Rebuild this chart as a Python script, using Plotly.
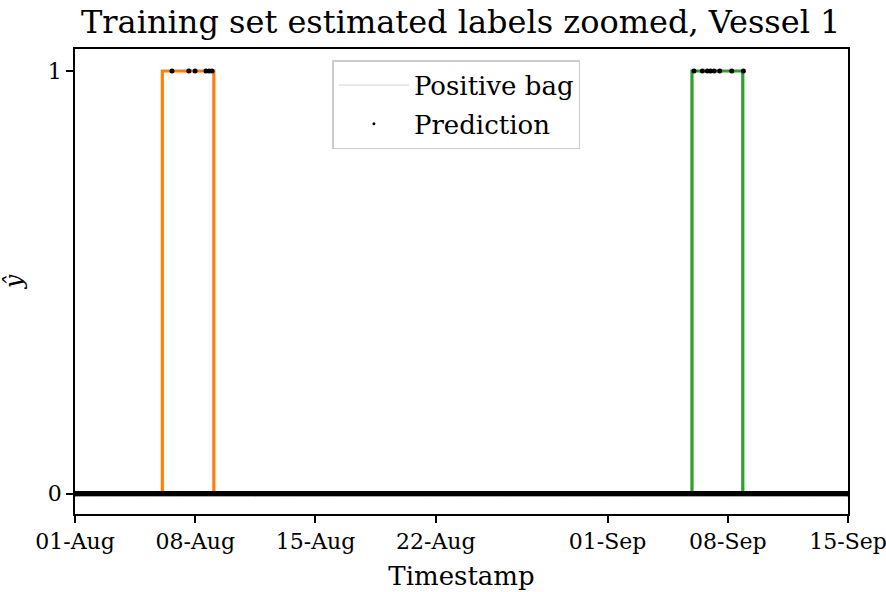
import pandas as pd
import plotly.graph_objects as go

# Positive bag windows (start, end) for vessel 1
bag_starts = ["2023-08-06 02:00", "2023-09-05 22:00"]
bag_ends = ["2023-08-09 02:00", "2023-09-08 21:00"]
bag_colors = ["#ff7f0e", "#2ca02c"]

# Timestamps where the model predicts 1
pos_pred_times = [
    "2023-08-06 15:30", "2023-08-07 15:00", "2023-08-07 23:50",
    "2023-08-08 15:00", "2023-08-08 19:30", "2023-08-08 23:30",
    "2023-09-06 00:45", "2023-09-06 12:30", "2023-09-06 19:30",
    "2023-09-07 00:00", "2023-09-07 05:00", "2023-09-07 12:45",
    "2023-09-08 05:30", "2023-09-08 21:50",
]
pos_pred_values = [1] * len(pos_pred_times)

# Hourly sampling grid of the vessel track, predicted 0
neg_pred_times = pd.date_range("2023-08-01", "2023-09-15", freq="h")
neg_pred_values = [0] * len(neg_pred_times)

tick_vals = ["2023-08-01", "2023-08-08", "2023-08-15", "2023-08-22",
             "2023-09-01", "2023-09-08", "2023-09-15"]

FONT = "DejaVu Serif"

fig = go.Figure()

for s, e, c in zip(bag_starts, bag_ends, bag_colors):
    fig.add_trace(go.Scatter(
        x=[s, s, e, e], y=[0, 1, 1, 0], mode="lines",
        line=dict(color=c, width=3.2), showlegend=False, hoverinfo="skip"))

fig.add_trace(go.Scatter(
    x=list(neg_pred_times) + pd.to_datetime(pos_pred_times).tolist(),
    y=neg_pred_values + pos_pred_values,
    mode="markers", marker=dict(color="black", size=5),
    showlegend=False))

# Legend entries
fig.add_trace(go.Scatter(
    x=[None], y=[None], mode="lines", name="Positive bag",
    line=dict(color="#d3d3d3", width=1), legendgroup="a"))
fig.add_trace(go.Scatter(
    x=[None], y=[None], mode="markers", name="Prediction",
    marker=dict(color="black", size=3), legendgroup="b"))

axis_common = dict(
    showline=True, linecolor="black", linewidth=1.5, mirror=True,
    ticks="outside", ticklen=7, tickwidth=1.5, tickcolor="black",
    showgrid=False, zeroline=False, automargin=False,
    ticklabeloverflow="allow",
    tickfont=dict(family=FONT, size=22, color="black"),
)

fig.update_layout(
    width=886, height=592,
    margin=dict(l=75, r=38, t=49, b=78),
    paper_bgcolor="white", plot_bgcolor="white",
    font=dict(family=FONT, color="black"),
    title=dict(text="Training set estimated labels zoomed, Vessel 1",
               font=dict(family=FONT, size=32, color="black"),
               x=0.52, xanchor="center", y=1 - 22 / 592, yanchor="middle"),
    xaxis=dict(**axis_common, type="date",
               range=["2023-08-01", "2023-09-15"],
               tickvals=tick_vals, tickformat="%d-%b",
               title=dict(text="Timestamp", font=dict(family=FONT, size=26), standoff=14)),
    yaxis=dict(**axis_common, range=[-0.048, 1.052], tickvals=[0, 1],
               title=dict(text="<i>ŷ</i>", font=dict(family=FONT, size=24), standoff=20)),
    legend=dict(x=0.333, y=0.976, xanchor="left", yanchor="top",
                bgcolor="white", bordercolor="#cccccc", borderwidth=1.5,
                font=dict(family=FONT, size=26, color="black"),
                itemwidth=70,
                traceorder="grouped", tracegroupgap=2),
)

fig.write_html("out.html")
